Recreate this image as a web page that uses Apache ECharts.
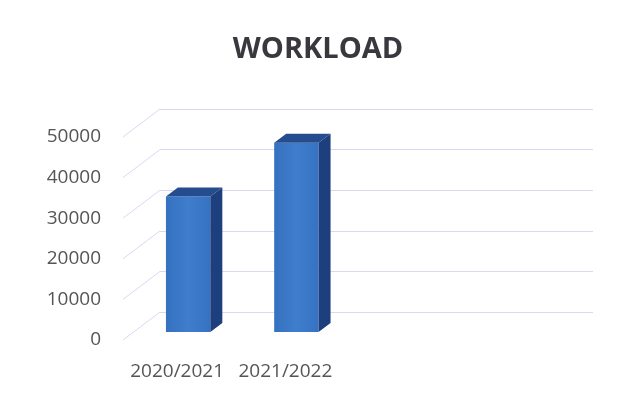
<!DOCTYPE html>
<html>
<head>
<meta charset="utf-8">
<script src="https://cdn.jsdelivr.net/npm/echarts@6/dist/echarts.min.js"></script>
<style>html,body{margin:0;padding:0;background:#fff}#c{width:636px;height:398px}</style>
</head>
<body>
<div id="c"></div>
<script>
const title = 'WORKLOAD';
const categories = ['2020/2021', '2021/2022', '', ''];
const workload = [33400, 46600, null, null];
const yTicks = [0, 10000, 20000, 30000, 40000, 50000];

const DX = 37, DY = -28;      // depth offset front plane -> back wall
const BDX = 12, BDY = -9;     // bar depth
const BAR_W = 0.41;
const FONT = '"Open Sans", "Liberation Sans", sans-serif';

const chart = echarts.init(document.getElementById('c'), null, {renderer: 'canvas'});
chart.setOption({
  animation: false,
  backgroundColor: '#fff',
  title: {
    text: title, left: 'center', top: 30,
    textStyle: {fontFamily: FONT, fontSize: 29, fontWeight: 'bold', color: '#38383e'}
  },
  grid: [
    {left: 123, width: 433, top: 137, height: 203},   // front plane (labels)
    {left: 160, width: 433, top: 109, height: 203},   // back wall
    {left: 134, width: 433, top: 129, height: 203}    // bar plane
  ],
  xAxis: [
    {gridIndex: 0, type: 'category', data: categories,
     axisLine: {show: false}, axisTick: {show: false},
     axisLabel: {interval: 0, margin: 22, fontFamily: FONT, fontSize: 19, color: '#555'}},
    {gridIndex: 1, type: 'category', data: categories, show: false},
    {gridIndex: 2, type: 'category', data: categories, show: false}
  ],
  yAxis: [
    {gridIndex: 0, type: 'value', min: 0, max: 50000, interval: 10000,
     splitLine: {show: false}, axisLine: {show: false}, axisTick: {show: false},
     axisLabel: {margin: 22, fontFamily: FONT, fontSize: 19, color: '#555', formatter: v => String(v)}},
    {gridIndex: 1, type: 'value', min: 0, max: 50000, interval: 10000,
     axisLabel: {show: false}, axisLine: {show: false}, axisTick: {show: false},
     splitLine: {show: true, lineStyle: {color: '#dcd8f2', width: 1}}},
    {gridIndex: 2, type: 'value', min: 0, max: 50000, interval: 10000, show: false}
  ],
  series: [
    {
      type: 'custom', xAxisIndex: 1, yAxisIndex: 1, silent: true, z: 1,
      data: yTicks.map(v => [0, v]),
      renderItem: function (params, api) {
        const p = api.coord([0, api.value(1)]);
        const x = params.coordSys.x;
        return {type: 'line', shape: {x1: x - DX, y1: p[1] - DY, x2: x, y2: p[1]},
                style: {stroke: '#dcd8f2', lineWidth: 1}};
      }
    },
    {
      type: 'bar', xAxisIndex: 2, yAxisIndex: 2, data: workload, z: 3,
      barWidth: (BAR_W * 100) + '%',
      itemStyle: {color: new echarts.graphic.LinearGradient(0, 0, 1, 0, [
        {offset: 0, color: '#3571c0'}, {offset: 0.5, color: '#3f7ecc'}, {offset: 1, color: '#3672c2'}])}
    },
    {
      type: 'custom', xAxisIndex: 2, yAxisIndex: 2, z: 4, silent: true,
      data: workload.map((v, i) => [i, v]),
      renderItem: function (params, api) {
        const v = api.value(1);
        if (v == null || isNaN(v)) return null;
        const top = api.coord([api.value(0), v]);
        const base = api.coord([api.value(0), 0]);
        const w = api.size([1, 0])[0] * BAR_W;
        const x0 = top[0] - w / 2, x1 = top[0] + w / 2;
        return {type: 'group', children: [
          {type: 'polygon', shape: {points: [[x1, top[1]], [x1 + BDX, top[1] + BDY], [x1 + BDX, base[1] + BDY], [x1, base[1]]]},
           style: {fill: '#1e3f7e'}},
          {type: 'polygon', shape: {points: [[x0, top[1]], [x0 + BDX, top[1] + BDY], [x1 + BDX, top[1] + BDY], [x1, top[1]]]},
           style: {fill: '#244c8e'}}
        ]};
      }
    }
  ]
});
</script>
</body>
</html>
